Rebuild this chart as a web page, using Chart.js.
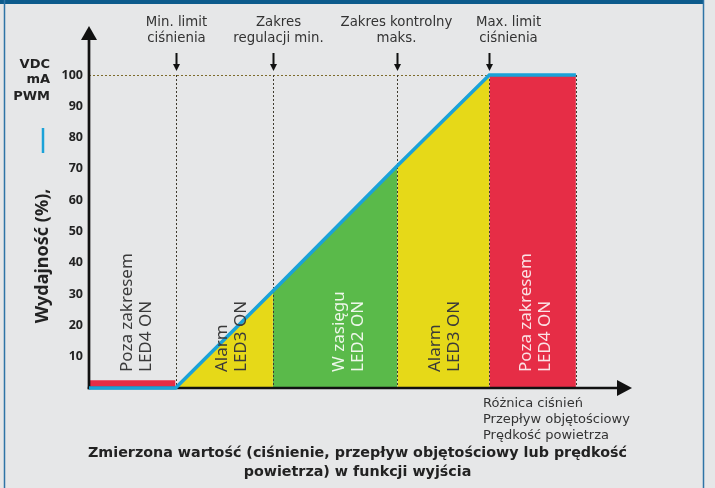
<!DOCTYPE html>
<html><head><meta charset="utf-8">
<script src="https://cdn.jsdelivr.net/npm/chart.js@4.4.1/dist/chart.umd.min.js"></script>
<style>
html,body{margin:0;padding:0;background:#e6e7e8;overflow:hidden}
#wrap{width:715px;height:488px;position:relative}
canvas{display:block}
</style>
</head><body><div id="wrap"><canvas id="c" width="715" height="488"></canvas></div>
<script>
// ---- data (x in % of the horizontal axis length, y in % output) ----
const outputX = [0, 16, 34, 57, 74, 90];      // breakpoints of the output curve
const outputY = [0, 0, 31, 71, 100, 100];     // output (%) at each breakpoint
const lowAlarmLevel = 2.5;                     // height of the red strip below min. limit
const yTickValues = [10, 20, 30, 40, 50, 60, 70, 80, 90, 100];
const markerX = [16, 34, 57, 74];              // marker arrows
const markerLabels = [["Min. limit","ciśnienia"],["Zakres","regulacji min."],["Zakres kontrolny","maks."],["Max. limit","ciśnienia"]];
const bandLabels = [["Poza zakresem","LED4 ON"],["Alarm","LED3 ON"],["W zasięgu","LED2 ON"],["Alarm","LED3 ON"],["Poza zakresem","LED4 ON"]];
const bandColors = ["#e62d46","#e6d918","#5aba4a","#e6d918","#e62d46"];
const bandTextColors = ["#3a3a3a","#3a3a3a","#eef7ea","#3a3a3a","#fbe2e5"];
const xAxisLabels = ["Różnica ciśnień","Przepływ objętościowy","Prędkość powietrza"];
const yUnitLabels = ["VDC","mA","PWM"];
const yTitle = "Wydajność (%),";
const chartTitle = ["Zmierzona wartość (ciśnienie, przepływ objętościowy lub prędkość","powietrza) w funkcji wyjścia"];
const lineColor = "#1ba2d8";

// ---- datasets ----
const datasets = [];
datasets.push({ // output line (drawn on top)
  data: outputX.map((x,i)=>({x, y: outputY[i]})),
  borderColor: lineColor, borderWidth: 3.5, pointRadius: 0, fill: false, clip: false, tension: 0
});
for (let i = 0; i < bandColors.length; i++) {
  const pts = i === 0
    ? [{x: outputX[0], y: lowAlarmLevel}, {x: outputX[1], y: lowAlarmLevel}]
    : [{x: outputX[i], y: outputY[i]}, {x: outputX[i+1], y: outputY[i+1]}];
  datasets.push({ data: pts, borderWidth: 0, borderColor: 'rgba(0,0,0,0)', backgroundColor: bandColors[i],
    pointRadius: 0, fill: 'origin', tension: 0 });
}

const deco = {
  id: 'deco',
  beforeDraw(chart) {
    const ctx = chart.ctx;
    ctx.save();
    ctx.fillStyle = '#0d5b8c';
    ctx.fillRect(0, 0, 704, 4);
    ctx.strokeStyle = '#2f74a6'; ctx.lineWidth = 1.5;
    ctx.beginPath(); ctx.moveTo(4.5, 0); ctx.lineTo(4.5, 488); ctx.stroke();
    ctx.beginPath(); ctx.moveTo(703.5, 0); ctx.lineTo(703.5, 488); ctx.stroke();
    ctx.restore();
  },
  beforeDatasetDraw(chart, args) {
    if (args.index !== 0) return;
    const ctx = chart.ctx, xs = chart.scales.x, ys = chart.scales.y;
    const px = v => xs.getPixelForValue(v), py = v => ys.getPixelForValue(v);
    ctx.save();
    // horizontal dotted at 100
    ctx.setLineDash([2, 2]);
    ctx.strokeStyle = '#7d6c2c'; ctx.lineWidth = 1.2;
    ctx.beginPath(); ctx.moveTo(px(0), Math.round(py(100)) + 0.5); ctx.lineTo(px(outputX[4]), Math.round(py(100)) + 0.5); ctx.stroke();
    // vertical dotted lines
    ctx.strokeStyle = '#3e3a2e'; ctx.lineWidth = 1;
    for (let i = 1; i < outputX.length; i++) {
      const x = Math.round(px(outputX[i])) + 0.5;
      ctx.beginPath(); ctx.moveTo(x, py(100)); ctx.lineTo(x, py(0)); ctx.stroke();
    }
    ctx.setLineDash([]);
    // axes
    ctx.strokeStyle = '#111'; ctx.fillStyle = '#111'; ctx.lineWidth = 2.7;
    const x0 = px(0), y0 = py(0);
    ctx.beginPath(); ctx.moveTo(x0, y0 + 1.3); ctx.lineTo(x0, 38); ctx.stroke();
    ctx.beginPath(); ctx.moveTo(x0, 26); ctx.lineTo(x0 - 8, 40); ctx.lineTo(x0 + 8, 40); ctx.closePath(); ctx.fill();
    ctx.beginPath(); ctx.moveTo(x0 - 1.3, y0); ctx.lineTo(619, y0); ctx.stroke();
    ctx.beginPath(); ctx.moveTo(632, y0); ctx.lineTo(617, y0 - 8); ctx.lineTo(617, y0 + 8); ctx.closePath(); ctx.fill();
    ctx.restore();
  },
  afterDraw(chart) {
    const ctx = chart.ctx, xs = chart.scales.x, ys = chart.scales.y;
    const px = v => xs.getPixelForValue(v), py = v => ys.getPixelForValue(v);
    ctx.save();
    // marker arrows and labels
    const labelOffsets = [0, 5, -1, 19];
    ctx.font = '13.3px "DejaVu Sans"'; ctx.fillStyle = '#333'; ctx.textAlign = 'center'; ctx.textBaseline = 'alphabetic';
    markerX.forEach((mx, i) => {
      const x = Math.round(px(mx)) + 0.5;
      ctx.strokeStyle = '#111'; ctx.lineWidth = 2;
      ctx.beginPath(); ctx.moveTo(x, 53); ctx.lineTo(x, 65); ctx.stroke();
      ctx.fillStyle = '#111';
      ctx.beginPath(); ctx.moveTo(x, 71); ctx.lineTo(x - 3.5, 64); ctx.lineTo(x + 3.5, 64); ctx.closePath(); ctx.fill();
      ctx.fillStyle = '#333';
      ctx.fillText(markerLabels[i][0], x + labelOffsets[i], 26);
      ctx.fillText(markerLabels[i][1], x + labelOffsets[i], 42);
    });
    // band labels (rotated)
    const bandOffsets = [4, 7, 13.5, 1.5, 3.5];
    ctx.font = '17px "Noto Sans"'; ctx.textAlign = 'left'; ctx.textBaseline = 'middle';
    bandLabels.forEach((lab, i) => {
      const cx = (px(outputX[i]) + px(outputX[i+1])) / 2 + bandOffsets[i];
      ctx.fillStyle = bandTextColors[i];
      lab.forEach((t, j) => {
        ctx.save();
        ctx.translate(cx - 9.5 + j * 19, 372);
        ctx.rotate(-Math.PI / 2);
        ctx.fillText(t, 0, 0);
        ctx.restore();
      });
    });
    // unit labels
    ctx.font = 'bold 13px "DejaVu Sans"'; ctx.fillStyle = '#222'; ctx.textAlign = 'right'; ctx.textBaseline = 'alphabetic';
    [67.5, 83, 100].forEach((y, i) => ctx.fillText(yUnitLabels[i], 50, y));
    // y title rotated + legend dash
    ctx.save();
    ctx.translate(47.5, 256); ctx.rotate(-Math.PI / 2);
    ctx.font = 'bold 18px "Noto Sans"'; ctx.fillStyle = '#222'; ctx.textAlign = 'center';
    ctx.fillText(yTitle, 0, 0);
    ctx.restore();
    ctx.strokeStyle = lineColor; ctx.lineWidth = 2.5;
    ctx.beginPath(); ctx.moveTo(43, 128); ctx.lineTo(43, 153); ctx.stroke();
    // x axis labels
    ctx.font = '13px "DejaVu Sans"'; ctx.fillStyle = '#333'; ctx.textAlign = 'left';
    [407, 423, 439].forEach((y, i) => ctx.fillText(xAxisLabels[i], 483, y));
    // title
    ctx.font = 'bold 14.3px "DejaVu Sans"'; ctx.fillStyle = '#222'; ctx.textAlign = 'center';
    ctx.fillText(chartTitle[0], 357.5, 457);
    ctx.fillText(chartTitle[1], 357.5, 476);
    ctx.restore();
  }
};

new Chart(document.getElementById('c'), {
  type: 'line',
  data: { datasets },
  options: {
    responsive: false, animation: false, devicePixelRatio: 1,
    layout: { padding: { left: 0, right: 85, top: 75, bottom: 100 } },
    plugins: { legend: { display: false }, tooltip: { enabled: false } },
    scales: {
      x: { type: 'linear', min: 0, max: 100, display: false },
      y: {
        type: 'linear', min: 0, max: 100,
        afterFit: s => { s.width = 89; },
        afterBuildTicks: s => { s.ticks = [0].concat(yTickValues).map(v => ({value: v})); },
        grid: { display: false, drawTicks: false }, border: { display: false },
        ticks: { padding: 6, color: '#222', font: { family: 'Noto Sans', weight: 'bold', size: 12.5 },
          callback: v => (v === 0 ? '' : String(v)) }
      }
    }
  },
  plugins: [deco]
});
</script>
</body></html>
